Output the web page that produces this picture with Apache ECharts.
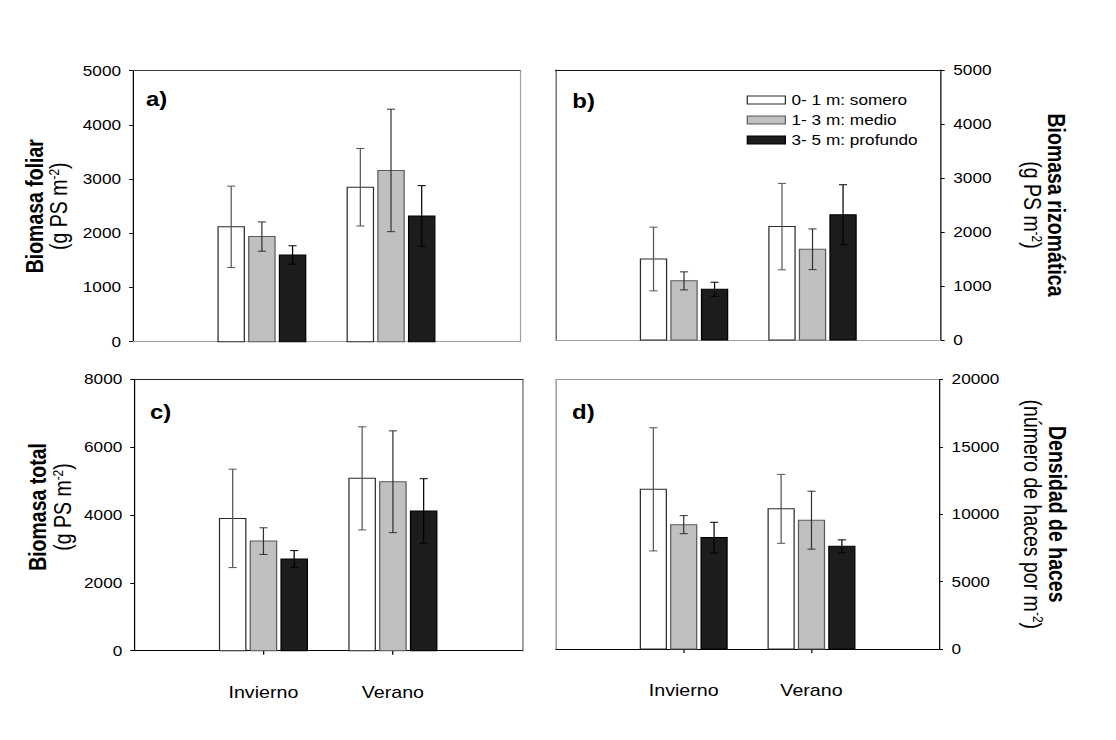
<!DOCTYPE html>
<html>
<head>
<meta charset="utf-8">
<script src="https://cdn.jsdelivr.net/npm/echarts@6/dist/echarts.min.js"></script>
<style>
  html, body { margin: 0; padding: 0; background: #fff; overflow: hidden; }
  /* the four-panel figure is laid out at 908 px and widened to the 1116 px page */
  #chart { width: 908px; height: 740px; transform: scaleX(1.2291); transform-origin: 0 0; }
</style>
</head>
<body>
<div id="chart"></div>
<script>
// Seasons on the x axis
const categories = ['Invierno', 'Verano'];
// Depth classes (legend)
const depthNames = ['0- 1 m: somero', '1- 3 m: medio', '3- 5 m: profundo'];

// a) Biomasa foliar (g PS m-2): mean and error, one row per depth class
const foliarMean = [[2120, 2850], [1940, 3160], [1600, 2320]];
const foliarErr  = [[750, 715], [270, 1130], [170, 560]];

// b) Biomasa rizomática (g PS m-2)
const rizomaMean = [[1500, 2100], [1095, 1680], [940, 2320]];
const rizomaErr  = [[590, 800], [167, 377], [130, 555]];

// c) Biomasa total (g PS m-2)
const totalMean = [[3900, 5080], [3230, 4980], [2700, 4120]];
const totalErr  = [[1450, 1520], [393, 1500], [250, 950]];

// d) Densidad de haces (número de haces por m-2)
const densMean = [[11850, 10400], [9230, 9560], [8270, 7620]];
const densErr  = [[4570, 2555], [670, 2150], [1135, 480]];

// y axis ranges
const foliarAxis = { max: 5000, step: 1000 };
const rizomaAxis = { max: 5000, step: 1000 };
const totalAxis  = { max: 8000, step: 2000 };
const densAxis   = { max: 20000, step: 5000 };

const FONT = "'Liberation Sans', Arial, sans-serif";
// x axis runs over four slots; the seasons sit on the two inner ones
const axisCats = [''].concat(categories).concat([' ']);

const barStyles = [
  { fill: '#ffffff', stroke: '#2a2a2a', err: '#555555' },
  { fill: '#c0c0c0', stroke: '#5a5a5a', err: '#333333' },
  { fill: '#1c1c1c', stroke: '#000000', err: '#000000' }
];
const BAR_W = 0.2035;   // bar width, in category slots
const BAR_STEP = 0.2376; // spacing between bars of a group, in category slots
const CAP = 3.3;        // half width of error-bar caps, px

const panels = [
  { label: 'a)', labelPos: [118.7, 89], grid: { left: 108, top: 70.7, width: 315.2, height: 271 },
    axis: foliarAxis, mean: foliarMean, err: foliarErr, side: 'left', showCats: false,
    edges: { top: '#3a3a3a', opp: '#a0a0a0', bottom: '#a0a0a0' },
    title: '{b|Biomasa foliar}\n{r|(g PS m}{s|-2}{r|)}', nameGap: 50, namePad: [0, 0, 0, 0] },
  { label: 'b)', labelPos: [465.6, 91.5], grid: { left: 452, top: 70, width: 313.6, height: 270 },
    axis: rizomaAxis, mean: rizomaMean, err: rizomaErr, side: 'right', showCats: false,
    edges: { top: '#111111', opp: '#555555', bottom: '#a0a0a0' },
    title: '{b|Biomasa rizomática}\n{r|(g PS m}{s|-2}{r|)}', nameGap: 64, namePad: [0, 0, 0, 0] },
  { label: 'c)', labelPos: [122, 402.5], grid: { left: 109, top: 379.3, width: 316, height: 271.4 },
    axis: totalAxis, mean: totalMean, err: totalErr, side: 'left', showCats: true,
    edges: { top: '#222222', opp: '#666666', bottom: '#000000' },
    title: '{b|Biomasa total}\n{r|(g PS m}{s|-2}{r|)}', nameGap: 48, namePad: [0, 0, 0, 16] },
  { label: 'd)', labelPos: [465.4, 402], grid: { left: 452.3, top: 379.5, width: 311.9, height: 269.5 },
    axis: densAxis, mean: densMean, err: densErr, side: 'right', showCats: true,
    edges: { top: '#999999', opp: '#888888', bottom: '#000000' },
    title: '{b|Densidad de haces}\n{r|(número de haces por m}{s|-2}{r|)}', nameGap: 66, namePad: [0, 0, 0, 0] }
];

const nameRich = {
  b: { fontFamily: FONT, fontSize: 19.5, fontWeight: 'bold', color: '#000', lineHeight: 20 },
  r: { fontFamily: FONT, fontSize: 19.5, color: '#000', lineHeight: 20 },
  s: { fontFamily: FONT, fontSize: 12, color: '#000', verticalAlign: 'top' }
};

function makeRender(s) {
  const st = barStyles[s];
  return function (params, api) {
    const ci = api.value(0);
    const v = api.value(1);
    const e = api.value(2);
    const band = api.size([1, 0])[0];
    const base = api.coord([ci, 0]);
    const top = api.coord([ci, v]);
    const hi = api.coord([ci, v + e]);
    const lo = api.coord([ci, v - e]);
    const cx = base[0] + (s - 1) * BAR_STEP * band;
    const w = BAR_W * band;
    const errStyle = { stroke: st.err, lineWidth: 1, fill: null };
    return {
      type: 'group',
      children: [
        { type: 'rect', shape: { x: cx - w / 2, y: top[1], width: w, height: base[1] - top[1] },
          style: { fill: st.fill, stroke: st.stroke, lineWidth: 1 } },
        { type: 'line', shape: { x1: cx, y1: hi[1], x2: cx, y2: lo[1] }, style: errStyle },
        { type: 'line', shape: { x1: cx - CAP, y1: hi[1], x2: cx + CAP, y2: hi[1] }, style: errStyle },
        { type: 'line', shape: { x1: cx - CAP, y1: lo[1], x2: cx + CAP, y2: lo[1] }, style: errStyle }
      ]
    };
  };
}

const grid = [], xAxis = [], yAxis = [], series = [], title = [];

panels.forEach(function (p, i) {
  grid.push(Object.assign({ show: false, containLabel: false }, p.grid));

  title.push({ text: p.label, left: p.labelPos[0], top: p.labelPos[1], padding: 0,
    textStyle: { fontFamily: FONT, fontSize: 19.5, fontWeight: 'bold', color: '#000' } });

  // bottom (category) axis
  xAxis.push({
    type: 'category', gridIndex: i, data: axisCats, boundaryGap: false, position: 'bottom',
    axisLine: { show: true, onZero: false, lineStyle: { color: p.edges.bottom, width: 1 } },
    axisTick: { show: p.showCats, length: 4, interval: function (idx) { return idx === 1 || idx === 2; },
      lineStyle: { color: '#000', width: 1 } },
    axisLabel: { show: p.showCats, interval: 0, margin: 34, fontFamily: FONT, fontSize: 16, color: '#000' },
    splitLine: { show: false }
  });
  // top frame edge
  xAxis.push({
    type: 'category', gridIndex: i, data: axisCats, boundaryGap: false, position: 'top',
    axisLine: { show: true, onZero: false, lineStyle: { color: p.edges.top, width: 1 } },
    axisTick: { show: false }, axisLabel: { show: false }, splitLine: { show: false }
  });

  // value axis with ticks, labels and title
  yAxis.push({
    type: 'value', gridIndex: i, position: p.side, min: 0, max: p.axis.max, interval: p.axis.step,
    axisLine: { show: true, onZero: false, lineStyle: { color: '#000', width: 1 } },
    axisTick: { show: true, length: 3, lineStyle: { color: '#000', width: 1 } },
    axisLabel: { margin: p.side === 'left' ? 9.5 : 10, fontFamily: FONT, fontSize: 14, color: '#000',
      formatter: function (v) { return String(v); } },
    splitLine: { show: false },
    name: p.title, nameLocation: 'middle', nameRotate: p.side === 'left' ? 90 : -90,
    nameGap: p.nameGap,
    nameTextStyle: { fontFamily: FONT, color: '#000', padding: p.namePad, rich: nameRich }
  });
  // opposite frame edge
  yAxis.push({
    type: 'value', gridIndex: i, position: p.side === 'left' ? 'right' : 'left', min: 0, max: p.axis.max,
    axisLine: { show: true, onZero: false, lineStyle: { color: p.edges.opp, width: 1 } },
    axisTick: { show: false }, axisLabel: { show: false }, splitLine: { show: false }
  });

  depthNames.forEach(function (name, s) {
    series.push({
      type: 'custom', name: name, xAxisIndex: 2 * i, yAxisIndex: 2 * i,
      encode: { x: 0, y: 1 },
      itemStyle: { color: barStyles[s].fill, borderColor: barStyles[s].stroke, borderWidth: 1 },
      data: categories.map(function (c, k) { return [k + 1, p.mean[s][k], p.err[s][k]]; }),
      renderItem: makeRender(s),
      silent: true
    });
  });
});

const chart = echarts.init(document.getElementById('chart'), null, { renderer: 'svg' });
chart.setOption({
  backgroundColor: '#ffffff',
  animation: false,
  title: title,
  legend: {
    orient: 'vertical', left: 607.5, top: 93, padding: 0, itemGap: 6,
    itemWidth: 31, itemHeight: 8, selectedMode: false,
    textStyle: { fontFamily: FONT, fontSize: 14, color: '#000' },
    data: depthNames.map(function (n, s) {
      return { name: n, icon: 'rect',
        itemStyle: { color: barStyles[s].fill, borderColor: barStyles[s].stroke, borderWidth: 1 } };
    })
  },
  grid: grid,
  xAxis: xAxis,
  yAxis: yAxis,
  series: series
});
</script>
</body>
</html>
